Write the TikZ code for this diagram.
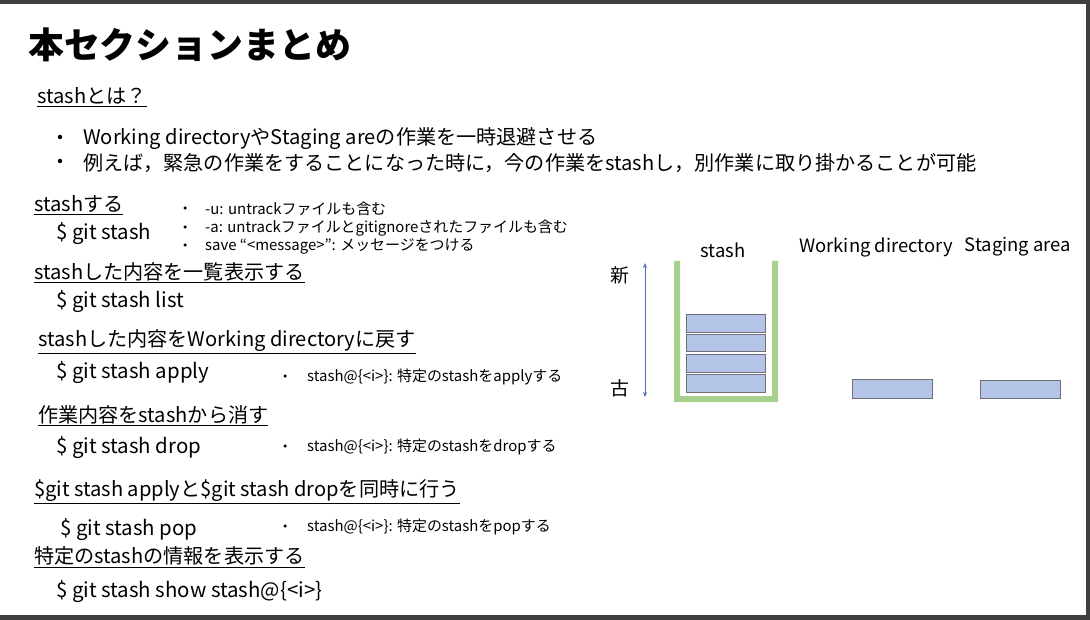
\documentclass[tikz,border=0pt]{standalone}
\usepackage{fontspec}
\setmainfont{Noto Sans CJK JP}
\usetikzlibrary{arrows.meta}
\definecolor{boxfill}{RGB}{180,196,230}
\definecolor{boxline}{RGB}{110,110,120}
\definecolor{stgreen}{RGB}{168,208,141}
\tikzset{
 body/.style={anchor=west,inner sep=0pt,yshift=-2bp,font=\fontsize{20.2}{22}\selectfont},
 cmd/.style={anchor=west,inner sep=0pt,yshift=-2bp,font=\fontsize{20.5}{23}\selectfont},
 small/.style={anchor=west,inner sep=0pt,yshift=-1bp,font=\fontsize{15}{17}\selectfont},
 dot/.style={circle,fill=black,inner sep=0pt,minimum size=4.5bp},
 sdot/.style={circle,fill=black,inner sep=0pt,minimum size=3.5bp},
 item/.style={draw=boxline,fill=boxfill,line width=0.8pt},
 hdr/.style={inner sep=0pt,yshift=-1bp,font=\fontsize{18.5}{20}\selectfont}
}
\begin{document}
\begin{tikzpicture}[x=1bp,y=-1bp]
\useasboundingbox (0,0) rectangle (1090,620);
\fill[white] (0,0) rectangle (1090,620);
\fill[black!75] (0,0) rectangle (1090,4);
\fill[black!75] (0,615) rectangle (1090,620);
\fill[black!75] (1086,0) rectangle (1090,620);
\node[anchor=west,inner sep=0pt,font=\fontsize{36}{40}\selectfont\bfseries] (title) at (28,45) {本セクションまとめ};
\node[body] (h1) at (37,95) {\underline{stashとは？}};
\node[dot] (b1) at (60,137) {};
\node[body] (t1) at (83,137) {Working directoryやStaging areの作業を一時退避させる};
\node[dot] (b2) at (60,161) {};
\node[body] (t2) at (83,161) {例えば，緊急の作業をすることになった時に，今の作業をstashし，別作業に取り掛かることが可能};
\node[body] (h2) at (34,203) {\underline{stashする}};
\node[cmd] (c2) at (56,232) {\$ git stash};
\node[sdot] at (185,208) {}; \node[small] (s1) at (205,208) {-u: untrackファイルも含む};
\node[sdot] at (185,227) {}; \node[small] (s2) at (205,227) {-a: untrackファイルとgitignoreされたファイルも含む};
\node[sdot] at (185,245) {}; \node[small] (s3) at (205,245) {save “<message>”: メッセージをつける};
\node[body] (h3) at (34,271) {\underline{stashした内容を一覧表示する}};
\node[cmd] (c3) at (56,300) {\$ git stash list};
\node[body] (h4) at (38,340) {\underline{stashした内容をWorking directoryに戻す}};
\node[cmd] (c4) at (56,371) {\$ git stash apply};
\node[sdot] at (285,376) {}; \node[small] (s4) at (307,376) {stash@\{<i>\}: 特定のstashをapplyする};
\node[body] (h5) at (38,414) {\underline{作業内容をstashから消す}};
\node[cmd] (c5) at (56,446) {\$ git stash drop};
\node[sdot] at (285,446) {}; \node[small] (s5) at (307,446) {stash@\{<i>\}: 特定のstashをdropする};
\node[body] (h6) at (34,490) {\underline{\$git stash applyと\$git stash dropを同時に行う}};
\node[cmd] (c6) at (60,528) {\$ git stash pop};
\node[sdot] at (285,526) {}; \node[small] (s6) at (307,526) {stash@\{<i>\}: 特定のstashをpopする};
\node[body] (h7) at (34,555) {\underline{特定のstashの情報を表示する}};
\node[cmd] (c7) at (56,590) {\$ git stash show stash@\{<i>\}};
% diagram
\node[hdr] (lst) at (723,249) {stash};
\node[hdr] (lwd) at (876,246) {Working directory};
\node[hdr] (lsa) at (1018,246) {Staging area};
\fill[stgreen] (674,261) rectangle (680,402) (772,261) rectangle (778,402) (674,396) rectangle (778,402);
\node[item,minimum width=79bp,minimum height=18bp] (r1) at (725.5,323) {};
\node[item,minimum width=79bp,minimum height=17bp] (r2) at (725.5,342.5) {};
\node[item,minimum width=79bp,minimum height=18bp] (r3) at (725.5,363) {};
\node[item,minimum width=79bp,minimum height=18bp] (r4) at (725.5,383) {};
\node[item,minimum width=80bp,minimum height=19bp] (wd) at (892,388.5) {};
\node[item,minimum width=80bp,minimum height=18bp] (sa) at (1020,389) {};
\coordinate (at) at (645,263); \coordinate (ab) at (645,397);
\draw[{Stealth[length=5bp,width=4bp]}-{Stealth[length=5bp,width=4bp]},color={rgb,255:red,80;green,110;blue,180},line width=0.6pt] (at) -- (ab);
\node[font=\fontsize{19}{21}\selectfont,inner sep=0pt] (new) at (620,275) {新};
\node[font=\fontsize{19}{21}\selectfont,inner sep=0pt] (old) at (620,388) {古};
\end{tikzpicture}
\end{document}
